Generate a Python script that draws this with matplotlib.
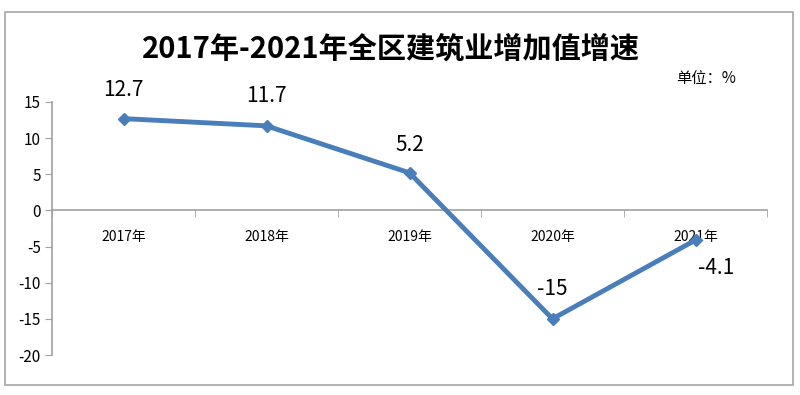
import matplotlib
matplotlib.use("Agg")
import matplotlib.pyplot as plt
from matplotlib.patches import Rectangle

plt.rcParams['font.family'] = ['Noto Sans CJK SC', 'DejaVu Sans']

categories = ["2017年", "2018年", "2019年", "2020年", "2021年"]
values = [12.7, 11.7, 5.2, -15, -4.1]
labels = ["12.7", "11.7", "5.2", "-15", "-4.1"]
yticks = [15, 10, 5, 0, -5, -10, -15, -20]
title = "2017年-2021年全区建筑业增加值增速"
unit = "单位：%"

fig = plt.figure(figsize=(8, 3.95), dpi=100)
fig.patches.append(Rectangle((5/800, 1-385/395), 788/800, 373/395, transform=fig.transFigure,
                             fill=False, edgecolor='#a6a6a6', linewidth=1.2))
ax = fig.add_axes([52/800, 40/395, 715/800, 253/395])
x = [i + 0.5 for i in range(len(categories))]
ax.plot(x, values, color='#4a7ebb', linewidth=3.5, marker='D', markersize=6.5, zorder=3)
ax.set_xlim(0, 5)
ax.set_ylim(-20, 15)
ax.set_yticks(yticks)
ax.set_yticklabels([str(v) for v in yticks], fontsize=11)
ax.tick_params(axis='y', length=5, color='#a0a0a0', pad=3)
ax.set_xticks(x)
ax.set_xticklabels(categories, fontsize=11.5)
ax.tick_params(axis='x', length=0, pad=14)
ax.set_xticks(range(6), minor=True)
ax.tick_params(axis='x', which='minor', length=5, color='#a0a0a0', direction='out')
for s in ['top', 'right']:
    ax.spines[s].set_visible(False)
ax.spines['bottom'].set_position(('data', 0))
ax.spines['bottom'].set_color('#a0a0a0')
ax.spines['left'].set_color('#a0a0a0')
ax.spines['bottom'].set_linewidth(1.2)
ax.spines['left'].set_linewidth(1.2)

offsets = [(0, 29), (0, 30), (0, 28), (0, 30), (21, -28)]
for xi, v, lab, off in zip(x, values, labels, offsets):
    ax.annotate(lab, (xi, v), xytext=off, textcoords='offset pixels', ha='center', va='center',
                fontsize=15)

fig.text(391/800, 1-49/395, title, ha='center', va='center', fontsize=21, fontweight='bold')
fig.text(706/800, 1-79/395, unit, ha='center', va='center', fontsize=11)

fig.savefig("out.png", dpi=100)
